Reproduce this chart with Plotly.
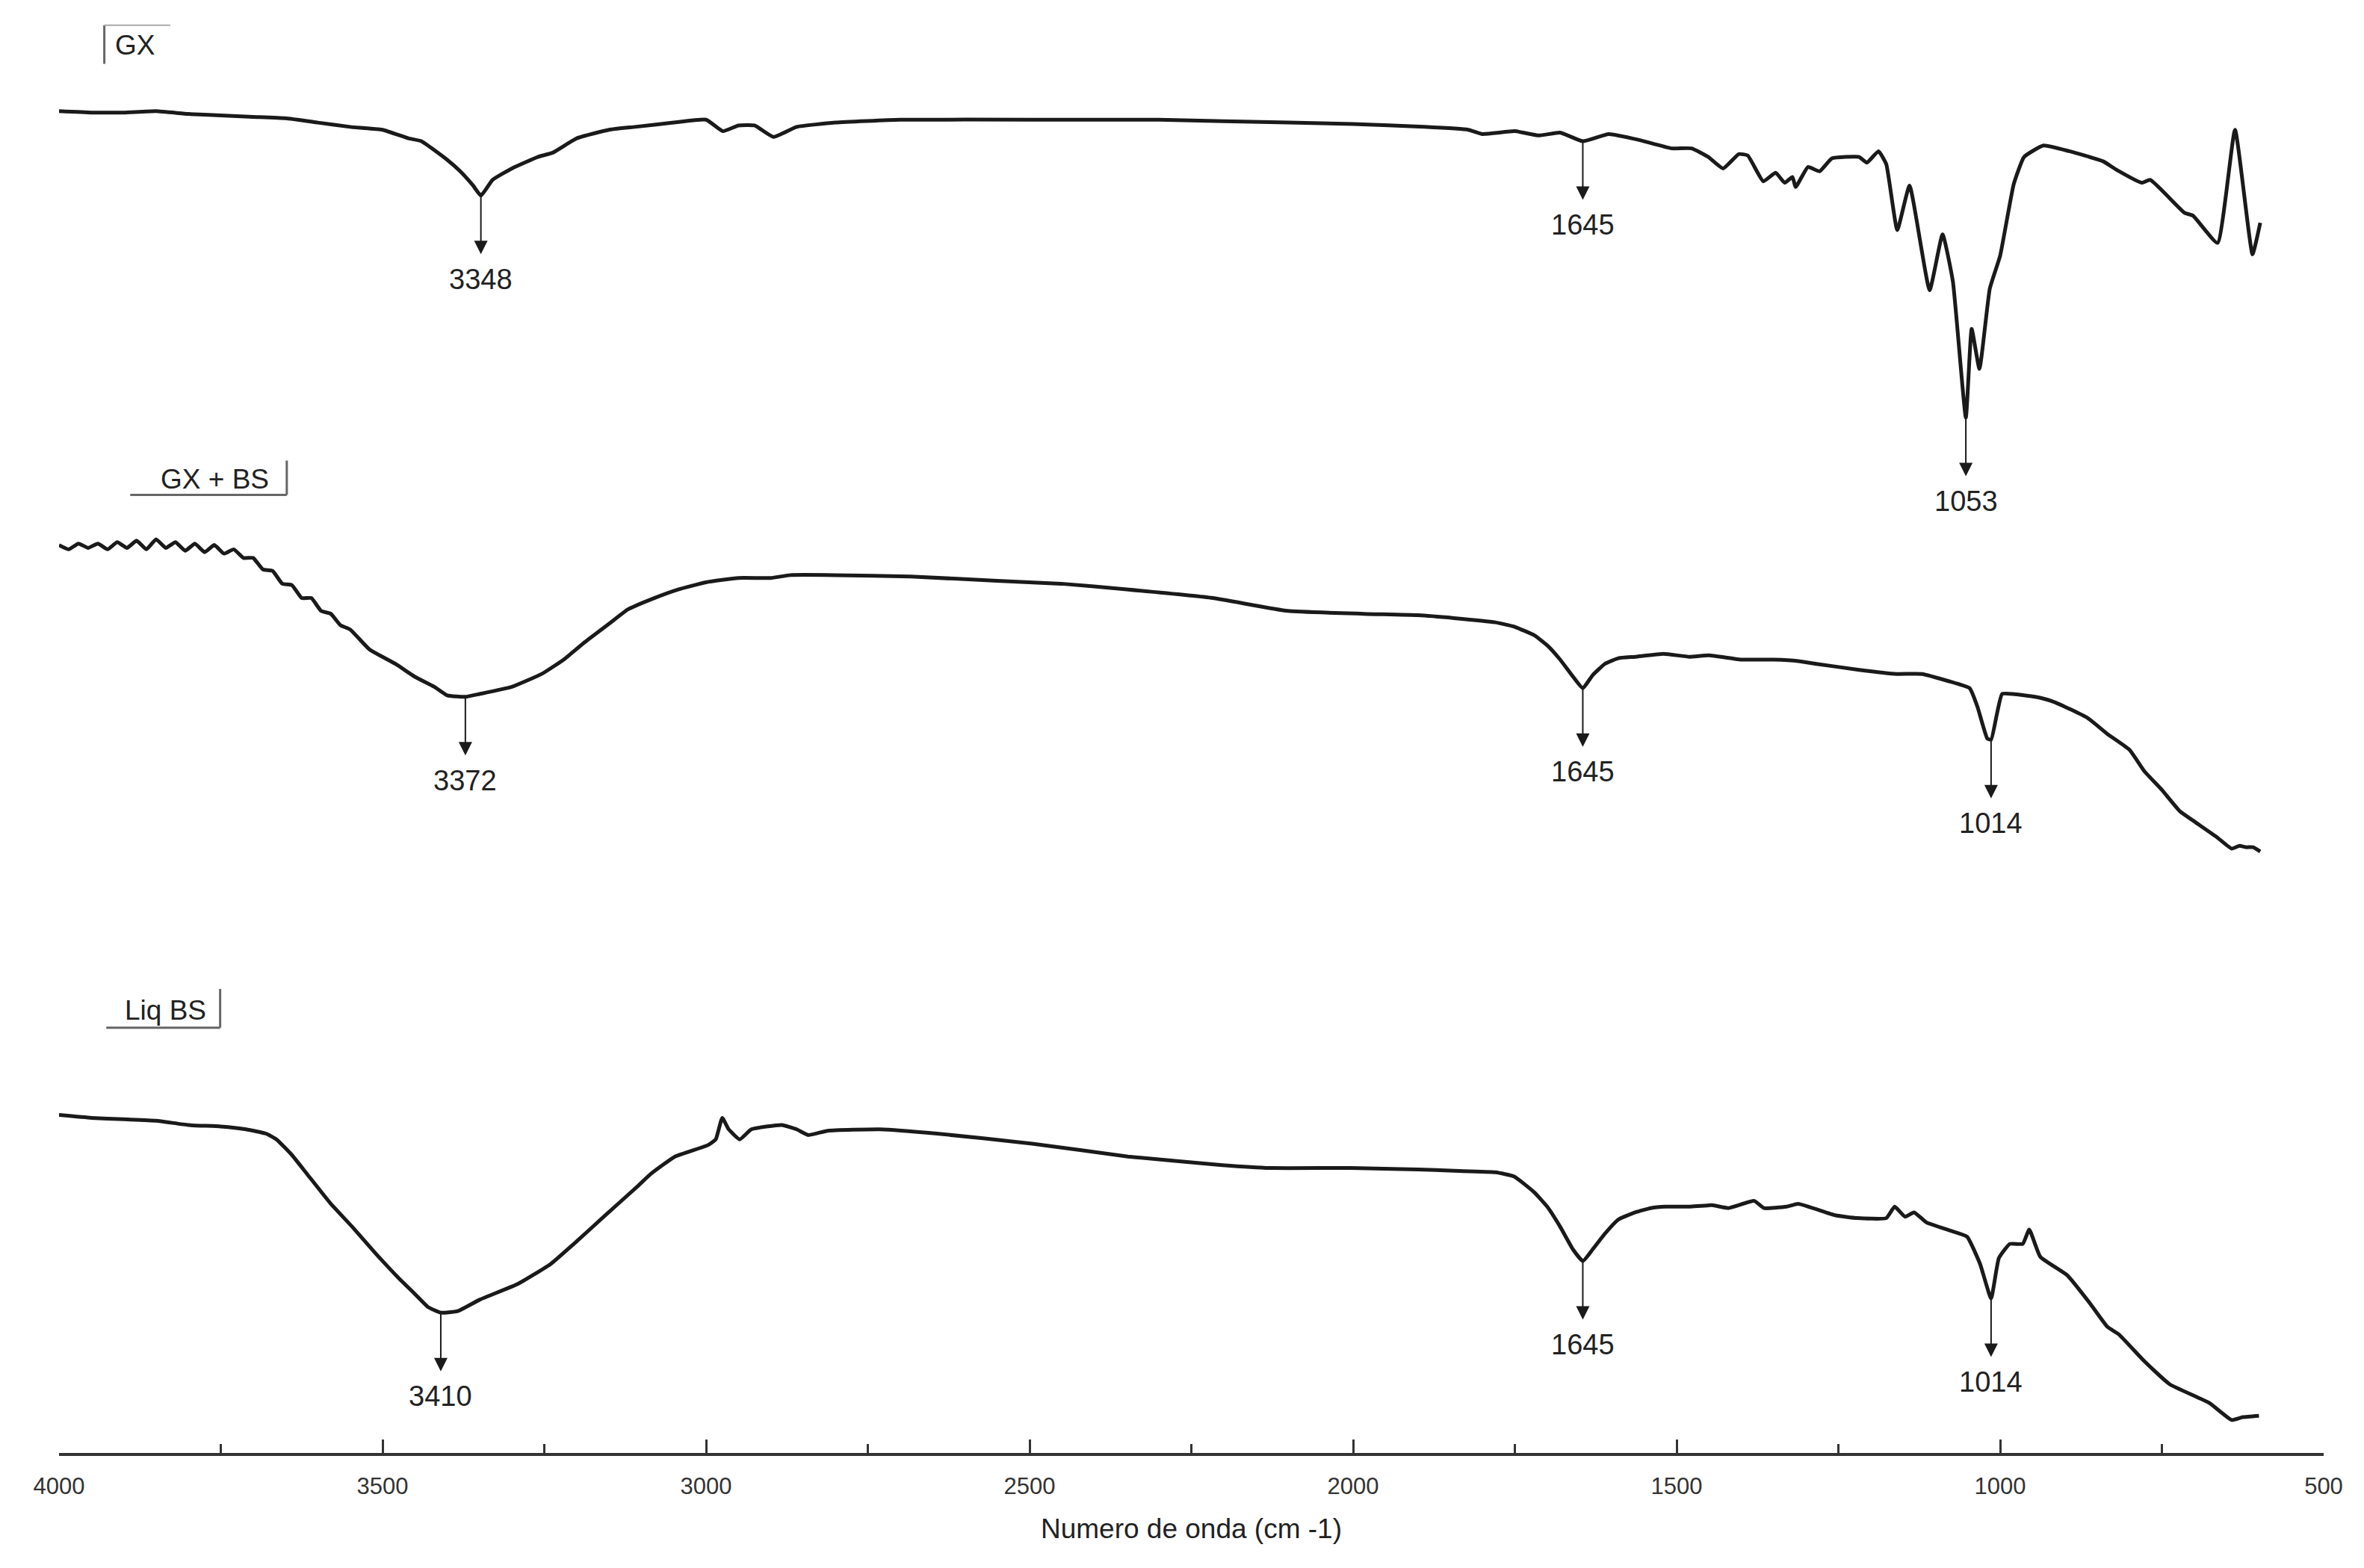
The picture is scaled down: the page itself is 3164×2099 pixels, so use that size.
import numpy as np
import plotly.graph_objects as go

# ---------------- data (wavenumber cm-1, offset transmittance a.u.) ----------------
gx_wn = [4000, 3950, 3900, 3850, 3800, 3750, 3700, 3650, 3600, 3550, 3500, 3460, 3440, 3400,
         3380, 3360, 3348, 3330, 3300, 3260, 3237, 3200, 3150, 3110, 3050, 3000, 2974, 2950,
         2925, 2896, 2860, 2800, 2700, 2500, 2300, 2200, 2000, 1890, 1822, 1800, 1750, 1713,
         1680, 1645, 1605, 1559, 1508, 1477, 1451, 1428, 1404, 1390, 1366, 1347, 1333, 1321,
         1316, 1297, 1279, 1260, 1218, 1206, 1188, 1176, 1159, 1140, 1109, 1089, 1073, 1053,
         1044, 1032, 1016, 1000, 979, 963, 933, 893, 841, 820, 781, 768, 715, 702, 664, 637,
         610, 598]
gx_t = [93.7, 93.6, 93.6, 93.7, 93.5, 93.4, 93.3, 93.2, 92.9, 92.6, 92.4, 91.8, 91.6, 90.3,
        89.5, 88.5, 87.8, 88.9, 89.7, 90.5, 90.8, 91.8, 92.4, 92.6, 92.9, 93.1, 92.3, 92.7,
        92.7, 91.9, 92.6, 92.9, 93.1, 93.1, 93.1, 93.0, 92.8, 92.6, 92.4, 92.1, 92.3, 92.0,
        92.2, 91.6, 92.1, 91.7, 91.1, 91.1, 90.5, 89.7, 90.7, 90.6, 88.8, 89.4, 88.7, 89.1,
        88.4, 89.8, 89.5, 90.4, 90.5, 90.1, 90.9, 90.0, 85.4, 88.5, 81.2, 85.1, 81.8, 72.3,
        78.5, 75.7, 81.3, 83.6, 88.6, 90.5, 91.3, 90.9, 90.2, 89.6, 88.7, 88.9, 86.6, 86.4,
        84.5, 92.4, 83.7, 85.9]

gxbs_wn = [4000, 3985, 3970, 3955, 3940, 3925, 3910, 3895, 3880, 3865, 3850, 3835, 3820, 3805,
           3790, 3775, 3760, 3745, 3730, 3715, 3700, 3685, 3670, 3655, 3640, 3625, 3610, 3595,
           3580, 3565, 3550, 3520, 3480, 3450, 3420,
           3400, 3372, 3350, 3300, 3254, 3220, 3188, 3150, 3121, 3080, 3043, 3000, 2950, 2900,
           2870, 2800, 2684, 2550, 2451, 2350, 2217, 2101, 1984, 1900, 1844, 1780, 1751, 1720,
           1700, 1680, 1660, 1645, 1630, 1611, 1590, 1564, 1520, 1480, 1450, 1401, 1350, 1312,
           1284, 1220, 1160, 1121, 1080, 1047, 1035, 1020, 1014, 1005, 997, 980, 946, 920, 890,
           864, 834, 800, 777, 750, 722, 700, 665, 642, 630, 620, 609, 598]
gxbs_t = [63.4, 63.1, 63.5, 63.2, 63.5, 63.1, 63.6, 63.2, 63.7, 63.1, 63.8, 63.2, 63.6, 63.0,
          63.5, 62.9, 63.4, 62.8, 63.1, 62.5, 62.5, 61.7, 61.6, 60.7, 60.6, 59.7, 59.7, 58.8,
          58.6, 57.8, 57.5, 56.1, 55.1, 54.2, 53.5,
          52.9, 52.8, 53.0, 53.5, 54.4, 55.4, 56.6, 57.9, 58.9, 59.7, 60.3, 60.8, 61.1, 61.1,
          61.3, 61.3, 61.2, 60.9, 60.7, 60.3, 59.7, 58.8, 58.6, 58.5, 58.3, 58.0, 57.7, 57.1,
          56.4, 55.4, 54.2, 53.4, 54.3, 55.1, 55.5, 55.6, 55.8, 55.6, 55.7, 55.4, 55.4, 55.3,
          55.1, 54.7, 54.4, 54.4, 53.9, 53.4, 52.1, 49.9, 49.8, 51.6, 53.0, 53.0, 52.8, 52.5,
          51.9, 51.3, 50.2, 49.1, 47.6, 46.3, 44.8, 44.1, 43.0, 42.2, 42.4, 42.3, 42.3, 42.0]

liq_wn = [4000, 3950, 3900, 3850, 3800, 3750, 3711, 3680, 3664, 3640, 3617, 3580, 3547, 3510,
          3477, 3450, 3430, 3410, 3384, 3350, 3291, 3240, 3197, 3158, 3104, 3085, 3048, 2997,
          2985, 2975, 2965, 2948, 2930, 2883, 2860, 2842, 2812, 2731, 2643, 2496, 2348, 2202,
          2128, 2004, 1900, 1844, 1780, 1751, 1720, 1700, 1680, 1660, 1645, 1630, 1611, 1590,
          1564, 1540, 1517, 1480, 1445, 1420, 1380, 1365, 1330, 1312, 1255, 1221, 1176, 1163,
          1147, 1133, 1114, 1075, 1051, 1031, 1014, 1002, 985, 965, 955, 938, 896, 862, 834,
          817, 777, 738, 677, 642, 625, 600]
liq_t = [23.6, 23.4, 23.3, 23.2, 22.9, 22.8, 22.6, 22.3, 21.9, 20.8, 19.5, 17.4, 15.8, 13.9,
         12.3, 11.1, 10.2, 9.8, 9.9, 10.7, 11.8, 13.2, 14.9, 16.5, 18.7, 19.5, 20.7, 21.5,
         21.9, 23.4, 22.6, 21.9, 22.6, 22.9, 22.6, 22.2, 22.5, 22.6, 22.3, 21.6, 20.7, 20.1,
         19.9, 19.9, 19.8, 19.7, 19.6, 19.3, 18.2, 17.2, 15.8, 14.2, 13.4, 14.2, 15.3, 16.3,
         16.8, 17.1, 17.2, 17.2, 17.3, 17.1, 17.6, 17.1, 17.2, 17.4, 16.6, 16.4, 16.4, 17.2,
         16.5, 16.8, 16.1, 15.5, 15.1, 13.2, 10.8, 13.6, 14.6, 14.6, 15.6, 13.7, 12.4, 10.5,
         8.8, 8.3, 6.4, 4.8, 3.5, 2.3, 2.5, 2.6]

gx_peaks = [3348, 1645, 1053]
gxbs_peaks = [3372, 1645, 1014]
liq_peaks = [3410, 1645, 1014]

sample_names = ["GX", "GX + BS", "Liq BS"]
tick_vals = [4000, 3500, 3000, 2500, 2000, 1500, 1000, 500]
x_title = "Numero de onda (cm -1)"

FONT = "Liberation Sans, Arial, sans-serif"
INK = "#1a1a1a"

fig = go.Figure()
spectra = [(gx_wn, gx_t, gx_peaks), (gxbs_wn, gxbs_t, gxbs_peaks), (liq_wn, liq_t, liq_peaks)]
for name, (wn, t, _) in zip(sample_names, spectra):
    fig.add_trace(go.Scatter(x=wn, y=t, mode="lines", name=name,
                             line=dict(color=INK, width=5, shape="spline", smoothing=0.4),
                             showlegend=False))

annotations = []
for wn, t, peaks in spectra:
    xs = np.array(wn[::-1], dtype=float)
    ys = np.array(t[::-1], dtype=float)
    for p in peaks:
        yv = float(np.interp(p, xs, ys))
        annotations.append(dict(x=p, y=yv, xref="x", yref="y", text="", showarrow=True,
                                ax=0, ay=80, arrowside="start",
                                arrowhead=2, arrowsize=1.8,
                                startarrowhead=2, startarrowsize=1.8,
                                arrowwidth=2, arrowcolor=INK, standoff=0, startstandoff=0))
        annotations.append(dict(x=p, y=yv, xref="x", yref="y", text=str(p), showarrow=False,
                                yshift=-112, font=dict(family=FONT, size=38, color="#222")))

# sample name labels (positions in data units)
label_pos = [(3883, 98.3), (3759, 68.0), (3835, 30.9)]
for name, (lx, ly) in zip(sample_names, label_pos):
    annotations.append(dict(x=lx, y=ly, xref="x", yref="y", text=name, showarrow=False,
                            font=dict(family=FONT, size=37, color="#222")))

frame_col = "#666"
shapes = [
    dict(type="line", xref="x", yref="y", x0=3930, x1=3930, y0=97.0, y1=99.7, line=dict(color=frame_col, width=3)),
    dict(type="line", xref="x", yref="y", x0=3930, x1=3828, y0=99.7, y1=99.7, line=dict(color="#aaa", width=2)),
    dict(type="line", xref="x", yref="y", x0=3890, x1=3648, y0=66.9, y1=66.9, line=dict(color=frame_col, width=3)),
    dict(type="line", xref="x", yref="y", x0=3648, x1=3648, y0=66.9, y1=69.3, line=dict(color=frame_col, width=3)),
    dict(type="line", xref="x", yref="y", x0=3927, x1=3751, y0=29.7, y1=29.7, line=dict(color=frame_col, width=3)),
    dict(type="line", xref="x", yref="y", x0=3751, x1=3751, y0=29.7, y1=32.4, line=dict(color=frame_col, width=3)),
]

fig.update_layout(
    width=3164, height=2099,
    margin=dict(l=71, r=62, t=20, b=162),
    paper_bgcolor="white", plot_bgcolor="white",
    font=dict(family=FONT, color="#222"),
    annotations=annotations, shapes=shapes,
    xaxis=dict(range=[4000, 500], tickvals=tick_vals, ticktext=[str(v) for v in tick_vals],
               showgrid=False, zeroline=False, showline=True, linecolor="#333", linewidth=4,
               ticks="inside", ticklen=18, tickwidth=3, tickcolor="#333",
               minor=dict(dtick=250, ticks="inside", ticklen=12, tickwidth=3, tickcolor="#333", showgrid=False),
               tickfont=dict(family=FONT, size=31, color="#333"), ticklabelstandoff=14,
               title=dict(text=x_title, font=dict(family=FONT, size=37, color="#222"), standoff=28)),
    yaxis=dict(range=[0, 100], visible=False, showgrid=False, zeroline=False),
)

fig.write_html("out.html")
